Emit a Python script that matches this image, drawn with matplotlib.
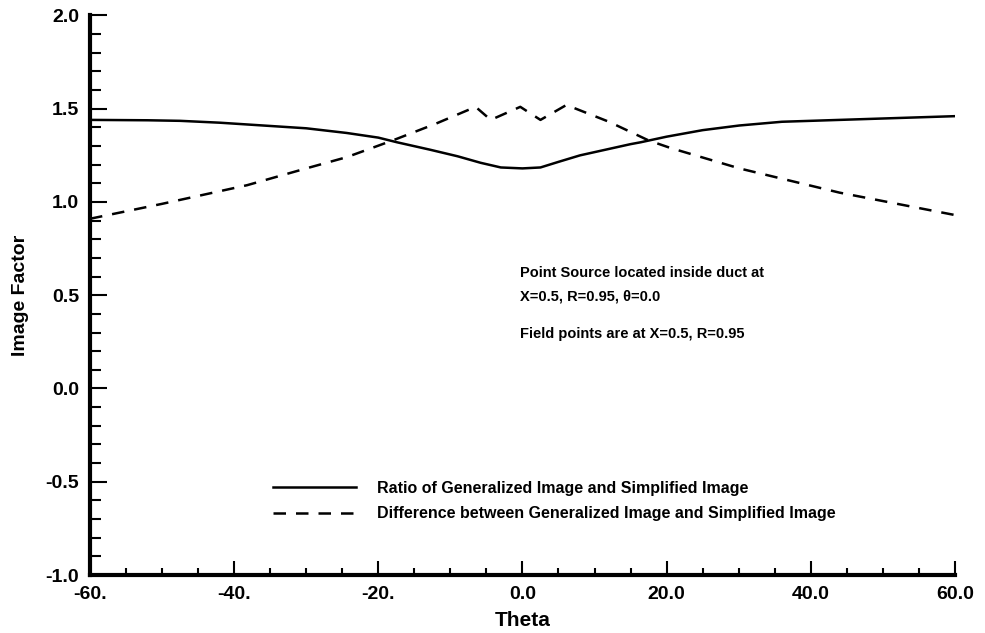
import numpy as np
import matplotlib.pyplot as plt
from matplotlib.ticker import MultipleLocator, FixedFormatter, FixedLocator

plt.rcParams['font.family'] = ['Liberation Sans', 'DejaVu Sans']
plt.rcParams['font.weight'] = 'bold'

# values
theta_ratio = [-60, -52, -47.5, -42, -36, -30, -24.4, -20, -17.4, -12.8, -9, -5.8, -3, 0, 2.5,
               5, 8, 11.5, 15, 16.4, 20, 25, 30.1, 36, 44, 52, 60]
ratio = [1.44, 1.438, 1.435, 1.425, 1.41, 1.395, 1.37, 1.345, 1.32, 1.28, 1.245, 1.21, 1.185, 1.18, 1.185,
         1.215, 1.25, 1.28, 1.31, 1.32, 1.35, 1.385, 1.41, 1.43, 1.44, 1.45, 1.46]

theta_diff = [-60, -50, -38.2, -30, -24.4, -18, -12, -6.5, -4.4, -0.3, 2.5, 6.1, 12, 17.5, 20.5, 30.1, 44, 60]
diff = [0.91, 0.99, 1.09, 1.18, 1.24, 1.33, 1.42, 1.51, 1.44, 1.51, 1.44, 1.52, 1.43, 1.33, 1.29, 1.18, 1.05, 0.93]

xticks = [-60, -40, -20, 0, 20, 40, 60]
xlabels = ['-60.', '-40.', '-20.', '0.0', '20.0', '40.0', '60.0']
yticks = [-1.0, -0.5, 0.0, 0.5, 1.0, 1.5, 2.0]
ylabels = ['-1.0', '-0.5', '0.0', '0.5', '1.0', '1.5', '2.0']

fig = plt.figure(figsize=(9.85, 6.33), dpi=100)
ax = fig.add_axes([0.0914, 0.0916, 0.878, 0.884])

ax.plot(theta_ratio, ratio, color='black', lw=1.8, label='Ratio of Generalized Image and Simplified Image')
ax.plot(theta_diff, diff, color='black', lw=1.8, ls=(0, (5, 4)),
        label='Difference between Generalized Image and Simplified Image')

ax.set_xlim(-60, 60)
ax.set_ylim(-1.0, 2.0)
ax.xaxis.set_major_locator(FixedLocator(xticks))
ax.xaxis.set_major_formatter(FixedFormatter(xlabels))
ax.xaxis.set_minor_locator(MultipleLocator(5))
ax.yaxis.set_major_locator(FixedLocator(yticks))
ax.yaxis.set_major_formatter(FixedFormatter(ylabels))
ax.yaxis.set_minor_locator(MultipleLocator(0.1))

for s in ['top', 'right']:
    ax.spines[s].set_visible(False)
for s in ['left', 'bottom']:
    ax.spines[s].set_linewidth(3)

ax.tick_params(which='both', direction='in', width=1.5, labelsize=14, pad=8)
ax.tick_params(axis='y', which='major', length=12)
ax.tick_params(axis='y', which='minor', length=8)
ax.tick_params(axis='x', which='major', length=10)
ax.tick_params(axis='x', which='minor', length=5)

ax.set_xlabel('Theta', fontsize=15, fontweight='bold', labelpad=6)
ax.set_ylabel('Image Factor', fontsize=14, fontweight='bold', labelpad=12)

ax.text(-0.3, 0.6, 'Point Source located inside duct at', fontsize=10.5, fontweight='bold')
ax.text(-0.3, 0.47, 'X=0.5, R=0.95, \u03b8=0.0', fontsize=10.5, fontweight='bold')
ax.text(-0.3, 0.27, 'Field points are at X=0.5, R=0.95', fontsize=10.5, fontweight='bold')

ax.legend(loc='lower left', bbox_to_anchor=(0.195, 0.07), frameon=False,
          handlelength=5.2, handletextpad=1.3, labelspacing=0.65,
          prop={'weight': 'bold', 'size': 11.5})

fig.savefig('out.png', dpi=100)
